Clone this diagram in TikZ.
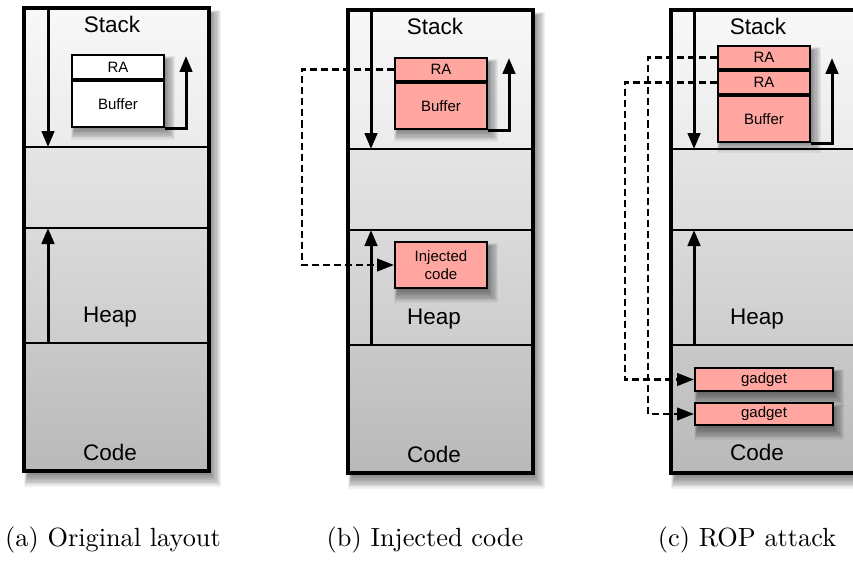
\documentclass[tikz,border=0pt]{standalone}
\usepackage{fontspec}
\newfontfamily\lsans{Liberation Sans}
\usetikzlibrary{arrows.meta}

\definecolor{boxpink}{RGB}{255,166,160}
\definecolor{stackA}{HTML}{F8F8F8}
\definecolor{stackB}{HTML}{EBEBEB}
\definecolor{gapA}{HTML}{E4E4E4}
\definecolor{gapB}{HTML}{DCDCDC}
\definecolor{heapA}{HTML}{DADADA}
\definecolor{heapB}{HTML}{CDCDCD}
\definecolor{codeA}{HTML}{C9C9C9}
\definecolor{codeB}{HTML}{B9B9B9}

\tikzset{
  frame/.style={draw=black, line width=3.2pt},
  divider/.style={draw=black, line width=2.2pt},
  seglabel/.style={font=\lsans\fontsize{22.5}{26}\selectfont, inner sep=0pt},
  cell/.style={draw=black, line width=2pt, fill=#1, minimum width=92pt,
    inner sep=0pt, font=\lsans\fontsize{15}{18}\selectfont, align=center},
  growarrow/.style={line width=3pt, -{Triangle[length=16pt,width=12.5pt]}},
  hijack/.style={line width=2.6pt, dash pattern=on 7pt off 4pt,
    -{Triangle[length=17pt,width=12.5pt]}},
  caption/.style={inner sep=0pt}
}

% soft drop shadow below and to the right of a rectangle
\newcommand{\softshadow}[4]{%
  \foreach \i in {0,...,9}{%
    \fill[black, opacity=0.055]
      ({#1+4-\i*0.4},{#2+6-\i*0.4}) rectangle ({#3+2+\i*1.1},{#4+4+\i*1.3});
  }%
}

% one memory column: left edge, vertical offset
\newcommand{\memframe}[2]{%
  \begin{scope}[shift={(#1,#2)}]
    \softshadow{0}{8}{185}{471}
    \shade[top color=stackA, bottom color=stackB] (0,8) rectangle (185,147);
    \shade[top color=gapA, bottom color=gapB] (0,147) rectangle (185,228);
    \shade[top color=heapA, bottom color=heapB] (0,228) rectangle (185,343);
    \shade[top color=codeA, bottom color=codeB] (0,343) rectangle (185,471);
    \draw[divider] (0,147) -- (185,147);
    \draw[divider] (0,228) -- (185,228);
    \draw[divider] (0,343) -- (185,343);
    \draw[frame] (0,8) rectangle (185,471);
  \end{scope}%
}

\begin{document}
\begin{tikzpicture}[x=1pt, y=-1pt]
\useasboundingbox (0,0) rectangle (853,567);

%---------------- (a) original layout ----------------
\memframe{24}{0}
\begin{scope}[shift={(24,0)}]
  \node[seglabel] (stacka) at (88,24) {Stack};
  \node[seglabel] (heapa) at (86,317) {Heap};
  \node[seglabel] (codea) at (86,452) {Code};
  \coordinate (sa1) at (24,8);
  \coordinate (sa2) at (24,147);
  \coordinate (ha1) at (24,343);
  \coordinate (ha2) at (24,228);
  \draw[growarrow] (sa1) -- (sa2);
  \draw[growarrow] (ha1) -- (ha2);
  \softshadow{47}{54}{139}{124}
  \node[cell=white, minimum height=24pt, anchor=north west] (raa) at (47,54) {RA};
  \node[cell=white, minimum height=46pt, anchor=north] (bufa) at (raa.south) {Buffer};
  \coordinate (upa) at (162,56);
  \draw[growarrow] (bufa.south east) -| (upa);
\end{scope}

%---------------- (b) injected code ----------------
\memframe{348}{2}
\begin{scope}[shift={(348,2)}]
  \node[seglabel] (stackb) at (87,24) {Stack};
  \node[seglabel] (heapb) at (86,317) {Heap};
  \node[seglabel] (codeb) at (86,452) {Code};
  \coordinate (sb1) at (23,8);
  \coordinate (sb2) at (23,147);
  \coordinate (hb1) at (23,343);
  \coordinate (hb2) at (23,228);
  \draw[growarrow] (sb1) -- (sb2);
  \draw[growarrow] (hb1) -- (hb2);
  \softshadow{46}{55}{138}{124}
  \node[cell=boxpink, minimum height=23pt, anchor=north west] (rab) at (46,55) {RA};
  \node[cell=boxpink, minimum height=46pt, anchor=north] (bufb) at (rab.south) {Buffer};
  \coordinate (upb) at (161,56);
  \draw[growarrow] (bufb.south east) -| (upb);
  \softshadow{46}{239}{138}{285}
  \node[cell=boxpink, minimum height=46pt, anchor=north west] (inj) at (46,239) {Injected\\code};
  \coordinate (jb) at (-46,150);
  \draw[hijack] (rab.west) -- (rab.west -| jb) -- (jb |- inj.west) -- (inj.west);
\end{scope}

%---------------- (c) ROP attack ----------------
\memframe{671}{2}
\begin{scope}[shift={(671,2)}]
  \node[seglabel] (stackc) at (87,24) {Stack};
  \node[seglabel] (heapc) at (86,317) {Heap};
  \node[seglabel] (codec) at (86,450) {Code};
  \coordinate (sc1) at (23,8);
  \coordinate (sc2) at (23,147);
  \coordinate (hc1) at (23,343);
  \coordinate (hc2) at (23,228);
  \draw[growarrow] (sc1) -- (sc2);
  \draw[growarrow] (hc1) -- (hc2);
  \softshadow{46}{43}{138}{135}
  \node[cell=boxpink, minimum height=23pt, anchor=north west] (rac1) at (46,43) {RA};
  \node[cell=boxpink, minimum height=23pt, anchor=north] (rac2) at (rac1.south) {RA};
  \node[cell=boxpink, minimum height=46pt, anchor=north] (bufc) at (rac2.south) {Buffer};
  \coordinate (upc) at (161,56);
  \draw[growarrow] (bufc.south east) -| (upc);
  \softshadow{23}{365}{161}{388}
  \softshadow{23}{400}{161}{422}
  \node[cell=boxpink, minimum width=138pt, minimum height=23pt, anchor=north west] (gad1) at (23,365) {gadget};
  \node[cell=boxpink, minimum width=138pt, minimum height=22pt, anchor=north west] (gad2) at (23,400) {gadget};
  \coordinate (jin) at (-23,200);
  \coordinate (jout) at (-46,200);
  \draw[hijack] (rac1.west) -- (rac1.west -| jin) -- (jin |- gad2.west) -- (gad2.west);
  \draw[hijack] (rac2.west) -- (rac2.west -| jout) -- (jout |- gad1.west) -- (gad1.west);
\end{scope}

%---------------- captions ----------------
\node[caption] (capa) at (113,540) {\scalebox{2.63}{(a) Original layout}};
\node[caption] (capb) at (425,540) {\scalebox{2.63}{(b) Injected code}};
\node[caption] (capc) at (747,540) {\scalebox{2.63}{(c) ROP attack}};
\end{tikzpicture}
\end{document}
